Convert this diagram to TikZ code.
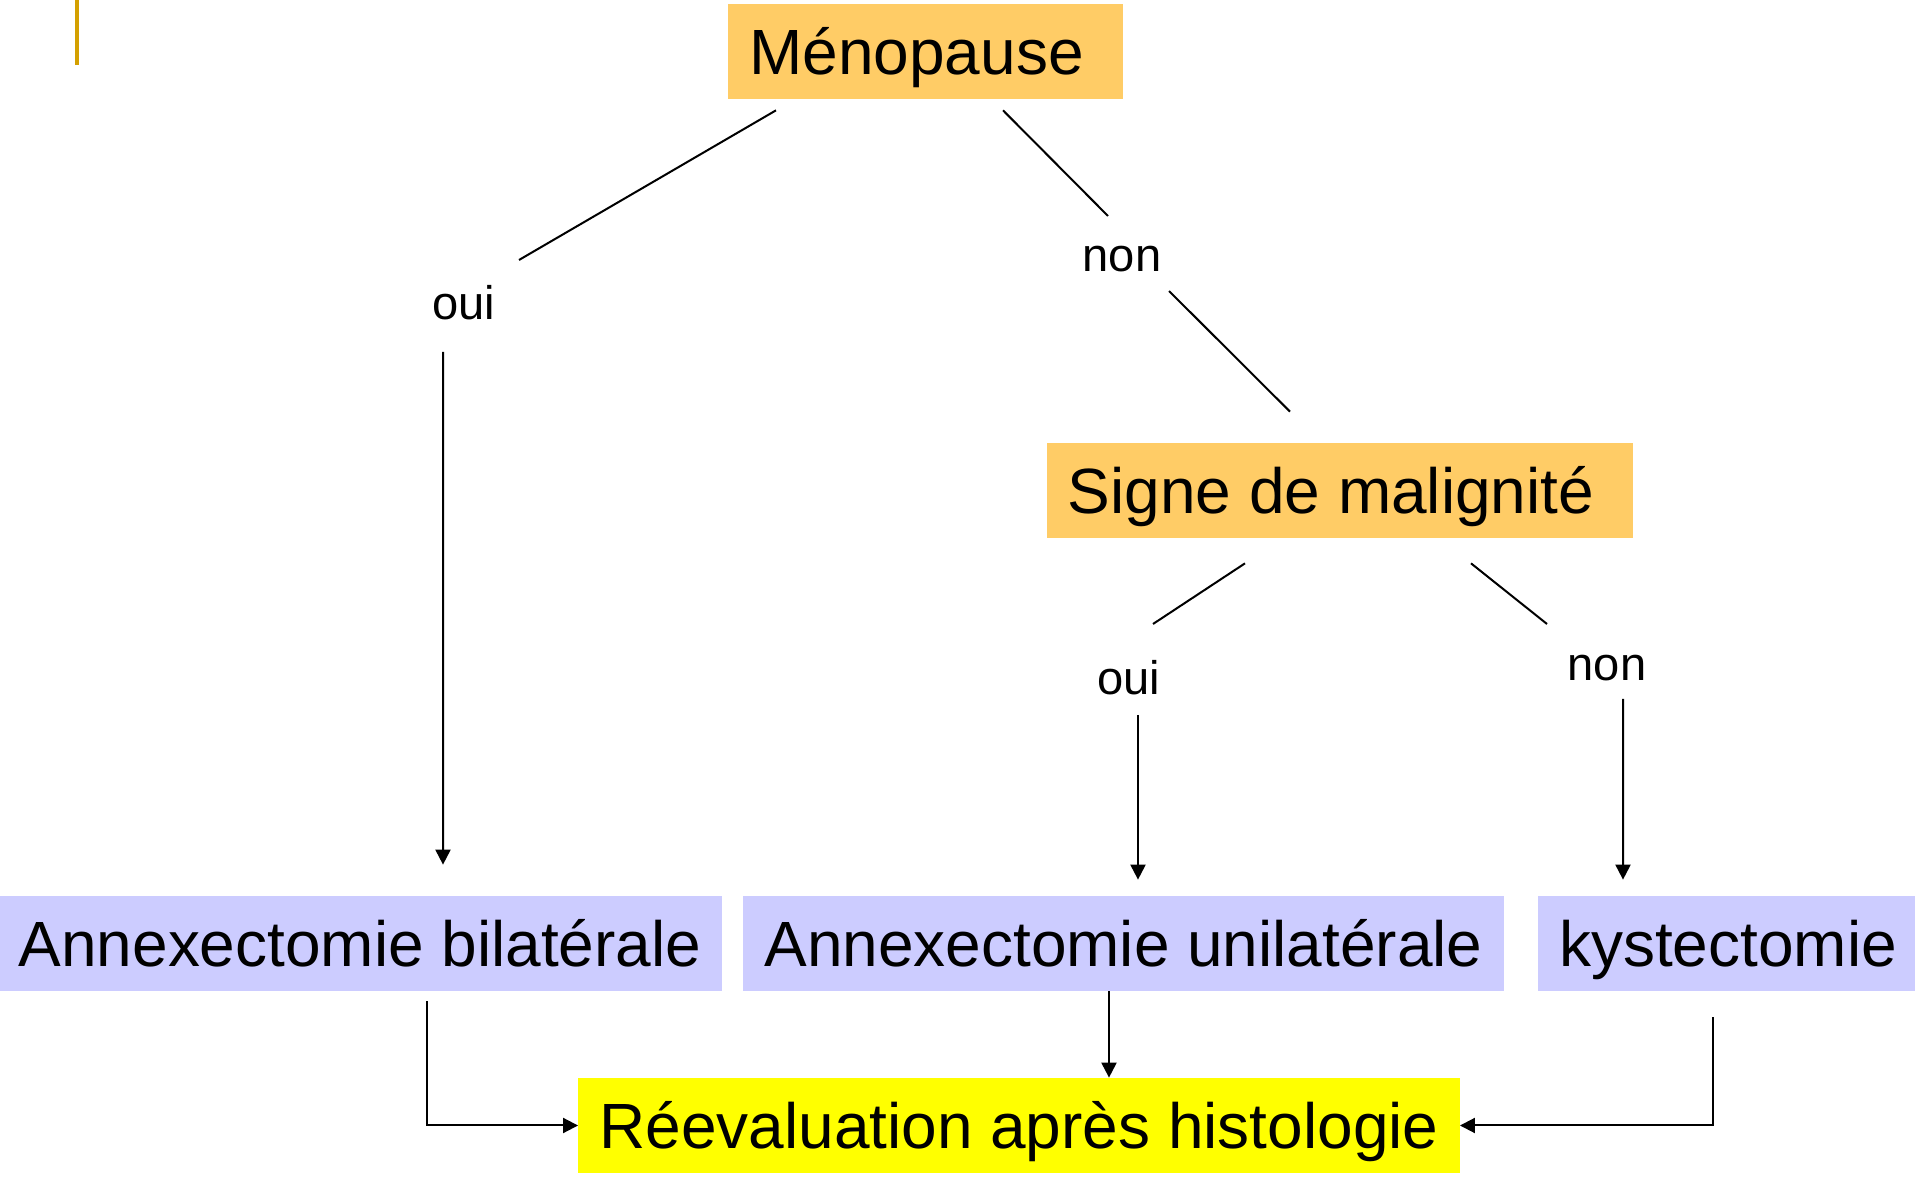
\documentclass[tikz,border=0pt]{standalone}
\usepackage{fontspec}
\setmainfont{Liberation Sans}
\usepackage{tikz}
\usetikzlibrary{arrows.meta, calc}

\definecolor{boxorange}{HTML}{FFCC66}
\definecolor{boxblue}{HTML}{CCCCFF}
\definecolor{boxyellow}{HTML}{FFFF00}
\definecolor{markgold}{HTML}{D4A000}

\begin{document}
\begin{tikzpicture}[
    decision/.style={rectangle, fill=boxorange, minimum height=1.9cm, inner xsep=0.42cm, inner ysep=0pt, text height=0.92cm, text depth=0pt, font=\fontsize{36.4pt}{44pt}\selectfont},
    treatment/.style={decision, fill=boxblue},
    result/.style={decision, fill=boxyellow},
    answer/.style={inner sep=0pt, text height=0.68cm, text depth=0pt, font=\fontsize{26.8pt}{32pt}\selectfont},
    branch/.style={line width=0.04cm},
    arrow/.style={-{Triangle[length=0.3cm, width=0.3cm]}, line width=0.04cm}
]
\useasboundingbox (0,0) rectangle (38.3,23.64);

% Corner mark
\draw[markgold, line width=0.08cm] (1.54,23.64) -- (1.54,22.34);

% Questions
\node[decision] (menopause) at (18.51, 22.61) {Ménopause\kern0.36cm};
\node[decision] (malignite) at (26.80, 13.83) {Signe de malignité\kern0.36cm};

% Answers
\node[answer] (oui1) at (9.28, 17.58) {oui};
\node[answer] (non1) at (22.44, 18.54) {non};
\node[answer] (oui2) at (22.58, 10.08) {oui};
\node[answer] (non2) at (32.14, 10.37) {non};

% Treatments
\node[treatment] (bilat) at (7.20, 4.77) {Annexectomie bilatérale};
\node[treatment] (unilat) at (22.47, 4.77) {Annexectomie unilatérale};
\node[treatment] (kyst) at (34.56, 4.77) {kystectomie};

% Outcome
\node[result] (reeval) at (20.38, 1.13) {Réevaluation après histologie};

% Menopause branches
\draw[branch] ($(menopause.south)+(-2.99,-0.22)$) -- ($(oui1)+(1.10,0.86)$);
\draw[arrow] ($(oui1)+(-0.42,-0.98)$) -- ($(bilat.north)+(1.66,0.62)$);
\draw[branch] ($(menopause.south)+(1.55,-0.22)$) -- ($(non1)+(-0.28,0.78)$);
\draw[branch] ($(non1)+(0.94,-0.72)$) -- ($(malignite.north)+(-1.00,0.62)$);

% Malignancy branches
\draw[branch] ($(malignite.south)+(-1.90,-0.50)$) -- ($(oui2)+(0.48,1.08)$);
\draw[arrow] ($(oui2)+(0.18,-0.74)$) -- ($(unilat.north)+(0.29,0.32)$);
\draw[branch] ($(malignite.south)+(2.62,-0.50)$) -- ($(non2)+(-1.20,0.79)$);
\draw[arrow] ($(non2)+(0.32,-0.71)$) -- ($(kyst.north)+(-2.10,0.32)$);

% Towards histology
\draw[arrow] ($(bilat.south)+(1.34,-0.20)$) |- (reeval.west);
\draw[arrow] ($(unilat.south)+(-0.29,0)$) coordinate (u) -- (u |- reeval.north);
\draw[arrow] ($(kyst.south)+(-0.30,-0.52)$) |- (reeval.east);

\end{tikzpicture}
\end{document}
